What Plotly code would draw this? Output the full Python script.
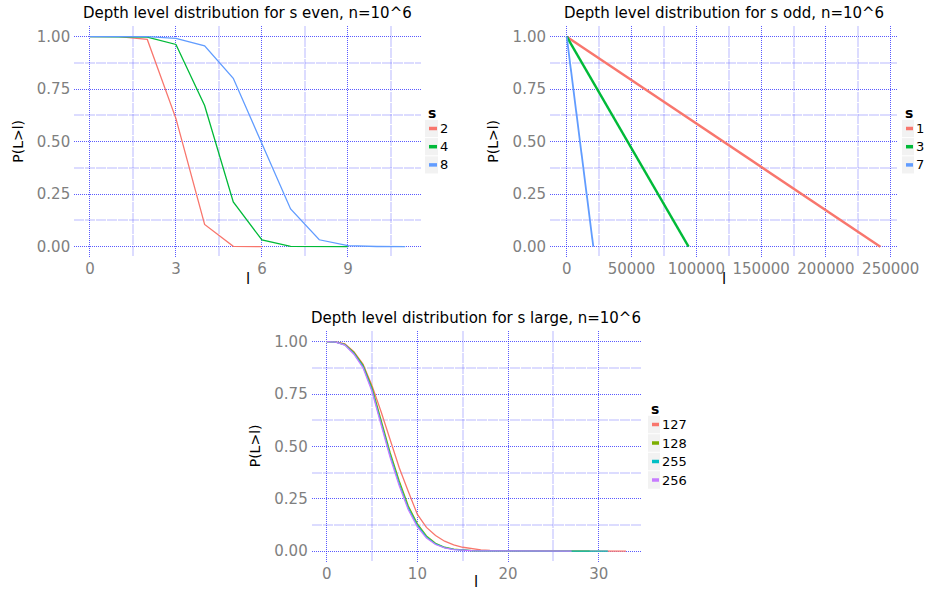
import plotly.graph_objects as go

# ---------------- data ----------------
# s even
even_s = ["2", "4", "8"]
s2_l = [0, 1, 2, 3, 4, 5, 6]
s2_p = [1.0, 1.0, 0.987, 0.61, 0.106, 0.002, 0.0]
s4_l = [0, 1, 2, 3, 4, 5, 6, 7, 8, 9]
s4_p = [1.0, 1.0, 0.998, 0.963, 0.672, 0.213, 0.032, 0.002, 0.0, 0.0]
s8_l = [0, 1, 2, 3, 4, 5, 6, 7, 8, 9, 10, 11]
s8_p = [1.0, 1.0, 1.0, 0.992, 0.956, 0.802, 0.492, 0.180, 0.033, 0.005, 0.001, 0.0]

# s odd
odd_s = ["1", "3", "7"]
s1_l = [0, 242000]
s1_p = [1.0, 0.0]
s3_l = [0, 94000]
s3_p = [1.0, 0.0]
s7_l = [0, 20500]
s7_p = [1.0, 0.0]

# s large
large_s = ["127", "128", "255", "256"]
s127_p = [1.0, 0.999, 0.99, 0.952, 0.893, 0.79, 0.665, 0.527, 0.398, 0.284, 0.175,
          0.113, 0.074, 0.047, 0.029, 0.018, 0.011, 0.006, 0.0035, 0.002, 0.0012,
          0.0007, 0.0004, 0.0002, 0.0001, 0.0001, 0.0, 0.0, 0.0, 0.0, 0.0, 0.0, 0.0, 0.0]
s128_p = [1.0, 0.998, 0.987, 0.948, 0.888, 0.78, 0.625, 0.47, 0.335, 0.215, 0.13,
          0.072, 0.037, 0.018, 0.009, 0.0045, 0.002, 0.001, 0.0005, 0.0002, 0.0001,
          0.0001, 0.0, 0.0, 0.0, 0.0, 0.0, 0.0, 0.0, 0.0]
s255_p = [1.0, 0.998, 0.985, 0.944, 0.882, 0.77, 0.612, 0.457, 0.322, 0.205, 0.122,
          0.067, 0.034, 0.016, 0.008, 0.004, 0.002, 0.001, 0.0004, 0.0002, 0.0001,
          0.0, 0.0, 0.0, 0.0, 0.0, 0.0, 0.0, 0.0, 0.0, 0.0, 0.0]
s256_p = [1.0, 0.998, 0.984, 0.94, 0.876, 0.762, 0.603, 0.447, 0.312, 0.197, 0.115,
          0.062, 0.031, 0.015, 0.007, 0.0035, 0.0015, 0.0007, 0.0003, 0.0001, 0.0,
          0.0, 0.0, 0.0, 0.0, 0.0, 0.0, 0.0]

colors3 = ["#F8766D", "#00BA38", "#619CFF"]
colors4 = ["#F8766D", "#7CAE00", "#00BFC4", "#C77CFF"]

titles = ["Depth level distribution for s even, n=10^6",
          "Depth level distribution for s odd, n=10^6",
          "Depth level distribution for s large, n=10^6"]

# ---------------- helpers ----------------
W, H = 925, 591


def px(x):
    return x / W


def py(y):
    return 1 - y / H


FONT = "DejaVu Sans"
fig = go.Figure()

even = [(s2_l, s2_p), (s4_l, s4_p), (s8_l, s8_p)]
for (lx, p), c, n in zip(even, colors3, even_s):
    fig.add_trace(go.Scatter(x=lx, y=p, mode="lines", name=n,
                             line=dict(color=c, width=1.3),
                             xaxis="x", yaxis="y", showlegend=False))

odd = [(s1_l, s1_p), (s3_l, s3_p), (s7_l, s7_p)]
for (lx, p), c, n, w in zip(odd, colors3, odd_s, [2.4, 2.4, 1.8]):
    fig.add_trace(go.Scatter(x=lx, y=p, mode="lines", name=n,
                             line=dict(color=c, width=w),
                             xaxis="x2", yaxis="y2", showlegend=False))

large = [s127_p, s128_p, s255_p, s256_p]
for p, c, n in zip(large, colors4, large_s):
    fig.add_trace(go.Scatter(x=list(range(len(p))), y=p, mode="lines", name=n,
                             line=dict(color=c, width=1.3),
                             xaxis="x3", yaxis="y3", showlegend=False))

major = dict(showgrid=True, gridcolor="rgba(20,20,255,0.7)", gridwidth=1,
             griddash="1px,1px", zeroline=False, showline=False, automargin=False,
             ticks="", tickfont=dict(family=FONT, size=15, color="#7F7F7F"))
minor_grid = dict(showgrid=True, gridcolor="rgba(60,60,255,0.18)", gridwidth=2,
                  griddash="10px,1px")


def xax(domain, rng, dtick, mdtick):
    d = dict(major)
    d.update(domain=domain, range=rng, tick0=0, dtick=dtick, tickformat="d",
             minor=dict(minor_grid, dtick=mdtick, tick0=0),
             ticklabelstandoff=1)
    return d


def yax(domain, anchor):
    d = dict(major)
    d.update(domain=domain, range=[-0.05, 1.05], tick0=0, dtick=0.25,
             tickformat=".2f", anchor=anchor,
             minor=dict(minor_grid, dtick=0.125, tick0=0),
             ticklabelstandoff=3)
    return d


ytop = [py(257.2), py(26.2)]
ybot = [py(561.5), py(331.2)]

layout = dict(
    width=W, height=H, margin=dict(l=0, r=0, t=0, b=0, autoexpand=False),
    paper_bgcolor="white", plot_bgcolor="white",
    xaxis=xax([px(74.2), px(421)], [-0.55, 11.55], 3, 1.5) | dict(anchor="y"),
    yaxis=yax(ytop, "x"),
    xaxis2=xax([px(550), px(897)], [-12900, 254850], 50000, 25000) | dict(anchor="y2"),
    yaxis2=yax(ytop, "x2"),
    xaxis3=xax([px(311.7), px(641)], [-1.65, 34.65], 10, 5) | dict(anchor="y3"),
    yaxis3=yax(ybot, "x3"),
)
fig.update_layout(**layout)

annotations = []
shapes = []

panels = [
    (247.6, 13, 279, 18, 141.7),
    (723.5, 13, 279, 493, 141.7),
    (476.4, 318, 582, 255, 446.3),
]
for (cx, ty, lx_y, yt_x, yt_y), t in zip(panels, titles):
    annotations.append(dict(text=t, x=px(cx), y=py(ty), xref="paper", yref="paper",
                            showarrow=False, xanchor="center", yanchor="middle",
                            font=dict(family=FONT, size=15, color="black")))
    annotations.append(dict(text="l", x=px(cx), y=py(lx_y), xref="paper", yref="paper",
                            showarrow=False, xanchor="center", yanchor="middle",
                            font=dict(family=FONT, size=15, color="black")))
    annotations.append(dict(text="P(L>l)", x=px(yt_x), y=py(yt_y), xref="paper",
                            yref="paper", showarrow=False, textangle=-90,
                            xanchor="center", yanchor="middle",
                            font=dict(family=FONT, size=14, color="black")))

# legends: (key left, key right, title y, first entry y, spacing, names, colors)
legends = [
    (425, 438, 113, 128.5, 18.2, even_s, colors3),
    (902, 914, 113, 128.5, 18.2, odd_s, colors3),
    (648, 660, 409, 424.5, 18.5, large_s, colors4),
]
for kl, kr, ty, y0, sp, names, cols in legends:
    annotations.append(dict(text="<b>s</b>", x=px(kl + 1), y=py(ty), xref="paper",
                            yref="paper", showarrow=False, xanchor="left",
                            yanchor="middle",
                            font=dict(family=FONT, size=14, color="black")))
    for i, (n, c) in enumerate(zip(names, cols)):
        yc = y0 + i * sp
        shapes.append(dict(type="rect", xref="paper", yref="paper",
                           x0=px(kl), x1=px(kr), y0=py(yc - sp / 2 + 0.5),
                           y1=py(yc + sp / 2 - 0.5), fillcolor="#F2F2F2",
                           line=dict(width=0), layer="below"))
        shapes.append(dict(type="line", xref="paper", yref="paper",
                           x0=px(kl + 4), x1=px(kr - 1), y0=py(yc), y1=py(yc),
                           line=dict(color=c, width=3.5)))
        annotations.append(dict(text=n, x=px(kr), y=py(yc), xref="paper",
                                yref="paper", showarrow=False, xanchor="left",
                                yanchor="middle",
                                font=dict(family=FONT, size=13, color="black")))

fig.update_layout(annotations=annotations, shapes=shapes)
fig.write_html(
    "out.html",
    config={"displayModeBar": False},
    post_script="document.body.style.margin='0';",
)
